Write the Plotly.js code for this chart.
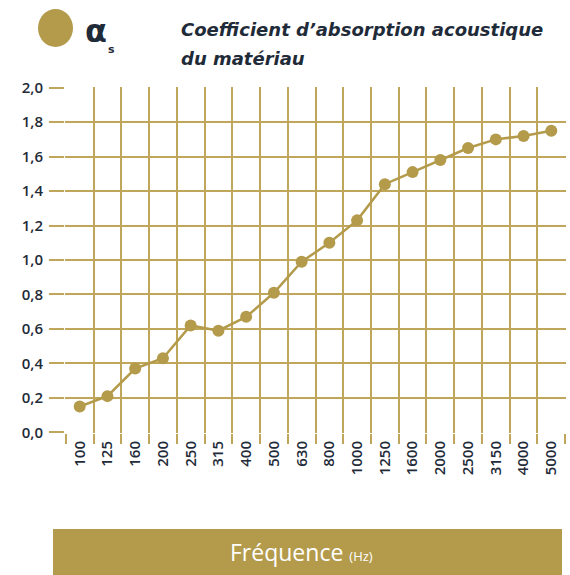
<!DOCTYPE html>
<html>
<head>
<meta charset="utf-8">
<script src="https://cdn.plot.ly/plotly-3.0.1.min.js"></script>
<style>html,body{margin:0;padding:0;background:#fff}#chart{width:570px;height:575px}</style>
</head>
<body>
<div id="chart"></div>
<script>
// Data
var frequencies = ["100","125","160","200","250","315","400","500","630","800","1000","1250","1600","2000","2500","3150","4000","5000"];
var alphaS = [0.15,0.21,0.37,0.43,0.62,0.59,0.67,0.81,0.99,1.10,1.23,1.44,1.51,1.58,1.65,1.70,1.72,1.75];
var yTicks = [0,0.2,0.4,0.6,0.8,1.0,1.2,1.4,1.6,1.8,2.0];
var titleLine1 = "Coefficient d\u2019absorption acoustique";
var titleLine2 = "du mat\u00e9riau";
var xLabel = "Fr\u00e9quence";
var xUnit = "(Hz)";

var GOLD = "#b39b4b";
var GRID = "#c0a65a";
var TEXT = "#1f2b38";
var W = 570, H = 575;
var L = 65, R = 4, T = 87, B = 142;
var pw = W - L - R, ph = H - T - B;
function px(x){ return (x - L) / pw; }
function py(y){ return (H - B - y) / ph; }

var trace = {
  x: frequencies, y: alphaS, type: "scatter", mode: "lines+markers",
  line: {color: GOLD, width: 2.5},
  marker: {color: GOLD, size: 12},
  hoverinfo: "skip", cliponaxis: false
};

var layout = {
  width: W, height: H,
  margin: {l: L, r: R, t: T, b: B},
  paper_bgcolor: "#fff", plot_bgcolor: "#fff",
  separators: ", ",
  showlegend: false,
  font: {family: "Open Sans, sans-serif", color: TEXT},
  xaxis: {
    type: "category", tickson: "boundaries",
    showgrid: true, gridcolor: GRID, gridwidth: 2,
    ticks: "outside", ticklen: 10, tickcolor: GRID, tickwidth: 2,
    tickangle: -90, tickfont: {size: 15, color: TEXT, weight: 600},
    ticklabelstandoff: 4,
    showline: false, zeroline: false, range: [-0.53, 17.53], fixedrange: true
  },
  yaxis: {
    range: [-0.004, 2.004], tickvals: yTicks, tickformat: ".1f",
    showgrid: true, gridcolor: GRID, gridwidth: 2,
    ticks: "outside", ticklen: 15, tickcolor: GRID, tickwidth: 2,
    tickfont: {size: 15, color: TEXT, weight: 600},
    ticklabelstandoff: 3,
    showline: false, zeroline: false, fixedrange: true
  },
  shapes: [
    {type: "circle", xref: "paper", yref: "paper", x0: px(38), x1: px(73), y0: py(47), y1: py(9),
     fillcolor: GOLD, line: {width: 0}},
    {type: "rect", xref: "paper", yref: "paper", x0: px(53), x1: px(562), y0: py(576), y1: py(529),
     fillcolor: GOLD, line: {width: 0}}
  ],
  annotations: [
    {xref: "paper", yref: "paper", x: px(84), y: py(31), xanchor: "left", yanchor: "middle",
     text: "<b>\u03b1</b>", showarrow: false, borderpad: 0,
     font: {size: 32, color: TEXT, family: "DejaVu Sans, sans-serif"}},
    {xref: "paper", yref: "paper", x: px(107), y: py(49), xanchor: "left", yanchor: "middle",
     text: "<b>s</b>", showarrow: false, borderpad: 0,
     font: {size: 11, color: TEXT, family: "DejaVu Sans, sans-serif"}},
    {xref: "paper", yref: "paper", x: px(179), y: py(30), xanchor: "left", yanchor: "middle",
     text: "<b><i>" + titleLine1 + "</i></b>", showarrow: false,
     font: {size: 18, color: TEXT, family: "DejaVu Sans, sans-serif"}},
    {xref: "paper", yref: "paper", x: px(179), y: py(58), xanchor: "left", yanchor: "middle",
     text: "<b><i>" + titleLine2 + "</i></b>", showarrow: false,
     font: {size: 18, color: TEXT, family: "DejaVu Sans, sans-serif"}},
    {xref: "paper", yref: "paper", x: px(301), y: py(552), xanchor: "center", yanchor: "middle",
     text: xLabel + " <span style='font-size:13px'>" + xUnit + "</span>", showarrow: false,
     font: {size: 23, color: "#ffffff"}}
  ]
};

Plotly.newPlot("chart", [trace], layout, {displayModeBar: false, staticPlot: true});
</script>
</body>
</html>
